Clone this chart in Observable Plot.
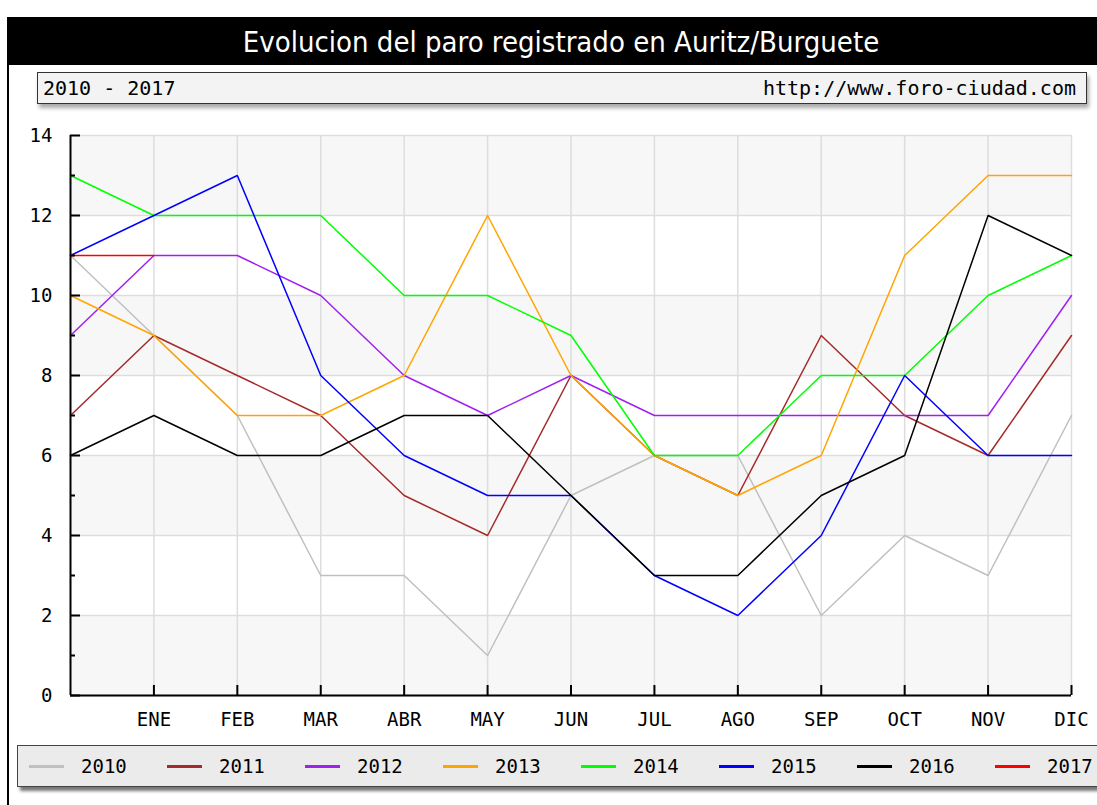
<!DOCTYPE html>
<html><head><meta charset="utf-8">
<script src="https://cdn.jsdelivr.net/npm/d3@7"></script>
<script src="https://cdn.jsdelivr.net/npm/@observablehq/plot@0.6"></script>
<style>
html,body{margin:0;padding:0;background:#fff;width:1097px;height:805px;overflow:hidden;}
body{position:relative;}
#frame{position:absolute;left:7px;top:17px;width:2px;height:788px;background:#000;}
#titlebar{position:absolute;left:8px;top:17px;width:1089px;height:48px;background:#000;}
#title{position:absolute;left:8px;top:17px;width:1106px;height:48px;color:#fff;font-family:"DejaVu Sans Condensed","DejaVu Sans",sans-serif;font-stretch:condensed;font-size:29px;line-height:50px;text-align:center;white-space:nowrap;}
#sub{position:absolute;left:37px;top:72px;width:1048px;height:30px;background:#f3f3f3;border:1px solid #333;box-shadow:2px 4px 4px #aaa;font-family:"DejaVu Sans Mono",monospace;font-size:20px;line-height:30px;color:#000;}
#sub .l{position:absolute;left:5px;top:0;}
#sub .r{position:absolute;right:10px;top:0;}
#chart{position:absolute;left:0;top:110px;}
#legend{position:absolute;left:17px;top:745px;width:1100px;height:40px;background:#ebebeb;border:1px solid #444;box-shadow:3px 4px 3px #777;font-family:"DejaVu Sans Mono",monospace;font-size:19px;color:#000;}
#legend .sw{position:absolute;top:19px;width:35px;height:3px;}
#legend .lb{position:absolute;top:0;line-height:40px;}
</style>
</head><body>
<div id="frame"></div>
<div id="titlebar"></div>
<div id="title">Evolucion del paro registrado en Auritz/Burguete</div>
<div id="sub"><span class="l">2010 - 2017</span><span class="r">http://www.foro-ciudad.com</span></div>
<div id="chart"></div>
<div id="legend"></div>
<script>
const months = ["ENE","FEB","MAR","ABR","MAY","JUN","JUL","AGO","SEP","OCT","NOV","DIC"];
const years = ["2010","2011","2012","2013","2014","2015","2016","2017"];
const colors = ["#c0c0c0","#a52a2a","#a020f0","#ffa500","#00ff00","#0000ff","#000000","#ff0000"];
// first value = December of the previous year, then ENE..DIC
const v2010 = [11,9,7,3,3,1,5,6,6,2,4,3,7];
const v2011 = [7,9,8,7,5,4,8,6,5,9,7,6,9];
const v2012 = [9,11,11,10,8,7,8,7,7,7,7,7,10];
const v2013 = [10,9,7,7,8,12,8,6,5,6,11,13,13];
const v2014 = [13,12,12,12,10,10,9,6,6,8,8,10,11];
const v2015 = [11,12,13,8,6,5,5,3,2,4,8,6,6];
const v2016 = [6,7,6,6,7,7,5,3,3,5,6,12,11];
const v2017 = [11,11];
const yMajor = [0,2,4,6,8,10,12,14];
const yMinor = [1,3,5,7,9,11,13];
const xTicks = [1,2,3,4,5,6,7,8,9,10,11,12];
const bandStarts = [0,4,8,12];

const series = [v2010,v2011,v2012,v2013,v2014,v2015,v2016,v2017];
const rows = [];
series.forEach((vals, k) => vals.forEach((v, i) => rows.push({year: years[k], i, v})));

const chart = Plot.plot({
  width: 1097, height: 640,
  marginLeft: 70, marginRight: 26, marginTop: 25, marginBottom: 55,
  style: {fontFamily: "'DejaVu Sans Mono', monospace", fontSize: "19px", color: "#000", background: "transparent", overflow: "visible"},
  x: {domain: [0, 12], axis: null},
  y: {domain: [0, 14], axis: null},
  color: {domain: years, range: colors},
  marks: [
    Plot.rect(bandStarts, {y1: d => d, y2: d => d + 2, fill: "#f7f7f7"}),
    Plot.gridY(yMajor, {stroke: "#dddddd", strokeOpacity: 1, strokeWidth: 1.5}),
    Plot.gridX(xTicks, {stroke: "#dddddd", strokeOpacity: 1, strokeWidth: 1.5}),
    Plot.line(rows, {x: "i", y: "v", z: "year", stroke: "year", strokeWidth: 1.5}),
    Plot.ruleX([0], {stroke: "#000", strokeWidth: 2}),
    Plot.ruleY([0], {stroke: "#000", strokeWidth: 2}),
    Plot.axisY(yMajor, {label: null, tickSize: -10, tickPadding: 28, strokeWidth: 2, stroke: "#000", fill: "#000"}),
    Plot.axisY(yMinor, {label: null, tickSize: -5, strokeWidth: 2, stroke: "#000", tickFormat: () => ""}),
    Plot.axisX(xTicks, {label: null, tickSize: -10, tickPadding: 27, strokeWidth: 2, stroke: "#000", fill: "#000", tickFormat: i => months[i - 1]})
  ]
});
document.getElementById("chart").appendChild(chart);

const legend = document.getElementById("legend");
years.forEach((y, k) => {
  const sw = document.createElement("div");
  sw.className = "sw";
  sw.style.left = (11 + k * 138) + "px";
  sw.style.background = colors[k];
  legend.appendChild(sw);
  const lb = document.createElement("div");
  lb.className = "lb";
  lb.style.left = (63 + k * 138) + "px";
  lb.textContent = y;
  legend.appendChild(lb);
});
</script>
</body></html>
